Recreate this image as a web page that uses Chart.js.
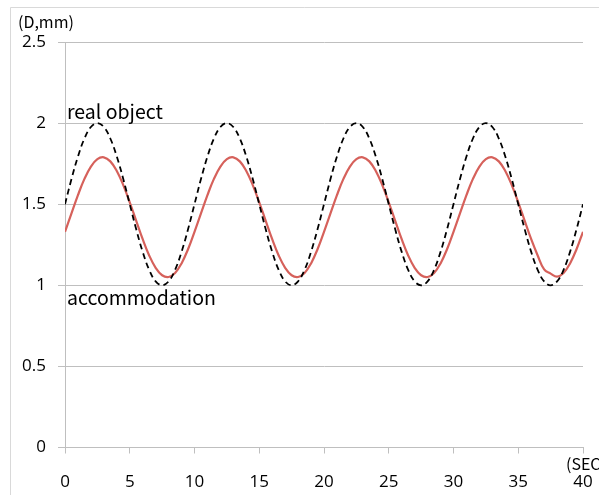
<!DOCTYPE html>
<html>
<head>
<meta charset="utf-8">
<script src="https://cdn.jsdelivr.net/npm/chart.js@4/dist/chart.umd.min.js"></script>
<style>
  html, body { margin: 0; padding: 0; background: #ffffff; }
  #wrap { position: relative; width: 599px; height: 495px; }
</style>
</head>
<body>
<div id="wrap"><canvas id="c" width="599" height="495"></canvas></div>
<script>
// time (sec), step 0.5
const times = [
  0,0.5,1,1.5,2,2.5,3,3.5,4,4.5,5,5.5,6,6.5,7,7.5,8,8.5,9,9.5,
  10,10.5,11,11.5,12,12.5,13,13.5,14,14.5,15,15.5,16,16.5,17,17.5,18,18.5,19,19.5,
  20,20.5,21,21.5,22,22.5,23,23.5,24,24.5,25,25.5,26,26.5,27,27.5,28,28.5,29,29.5,
  30,30.5,31,31.5,32,32.5,33,33.5,34,34.5,35,35.5,36,36.5,37,37.5,38,38.5,39,39.5,
  40
];
// real object (D) — dashed black
const realObject = [
  1.50,1.655,1.794,1.905,1.976,2.00,1.976,1.905,1.794,1.655,1.50,1.345,1.206,1.095,1.024,1.00,1.024,1.095,1.206,1.345,
  1.50,1.655,1.794,1.905,1.976,2.00,1.976,1.905,1.794,1.655,1.50,1.345,1.206,1.095,1.024,1.00,1.024,1.095,1.206,1.345,
  1.50,1.655,1.794,1.905,1.976,2.00,1.976,1.905,1.794,1.655,1.50,1.345,1.206,1.095,1.024,1.00,1.024,1.095,1.206,1.345,
  1.50,1.655,1.794,1.905,1.976,2.00,1.976,1.905,1.794,1.655,1.50,1.345,1.206,1.095,1.024,1.00,1.024,1.095,1.206,1.345,
  1.50
];
// accommodation (D) — red
const accommodation = [
  1.33,1.443,1.556,1.656,1.732,1.778,1.789,1.764,1.705,1.618,1.512,1.397,1.284,1.184,1.108,1.062,1.051,1.076,1.135,1.222,
  1.33,1.443,1.556,1.656,1.732,1.778,1.789,1.764,1.705,1.618,1.512,1.397,1.284,1.184,1.108,1.062,1.051,1.076,1.135,1.222,
  1.33,1.443,1.556,1.656,1.732,1.778,1.789,1.764,1.705,1.618,1.512,1.397,1.284,1.184,1.108,1.062,1.051,1.076,1.135,1.222,
  1.33,1.443,1.556,1.656,1.732,1.778,1.789,1.764,1.705,1.618,1.512,1.397,1.284,1.184,1.098,1.072,1.054,1.076,1.135,1.222,
  1.33
];
const yTicks = [0, 0.5, 1, 1.5, 2, 2.5];
const xTicks = [0, 5, 10, 15, 20, 25, 30, 35, 40];
const labels = { realObject: 'real object', accommodation: 'accommodation', yUnit: '(D,mm)', xUnit: '(SEC)' };

const GRID = '#bfbfbf';
const TICKFONT = { family: "'Open Sans', 'Noto Sans', sans-serif", size: 17 };

const decor = {
  id: 'decor',
  beforeDraw(chart) {
    const ctx = chart.ctx;
    ctx.save();
    ctx.fillStyle = '#fff';
    ctx.fillRect(0, 0, chart.width, chart.height);
    ctx.strokeStyle = '#d9d9d9';
    ctx.lineWidth = 1;
    ctx.beginPath();
    ctx.moveTo(10.5, chart.height);
    ctx.lineTo(10.5, 7.5);
    ctx.lineTo(chart.width, 7.5);
    ctx.stroke();
    ctx.restore();
  },
  afterDraw(chart) {
    const ctx = chart.ctx;
    ctx.save();
    ctx.fillStyle = '#000';
    ctx.textBaseline = 'alphabetic';
    ctx.textAlign = 'left';
    ctx.font = "19.5px 'Noto Sans CJK JP', 'Noto Sans', sans-serif";
    ctx.fillText(labels.realObject, 67, 119);
    ctx.fillText(labels.accommodation, 67, 305);
    ctx.font = "16px 'Noto Sans CJK JP', 'Noto Sans', sans-serif";
    ctx.fillText(labels.yUnit, 18, 28);
    ctx.fillText(labels.xUnit, 566, 470);
    ctx.restore();
  }
};

new Chart(document.getElementById('c'), {
  type: 'line',
  data: {
    datasets: [
      {
        label: labels.realObject,
        data: times.map((t, i) => ({ x: t, y: realObject[i] })),
        borderColor: '#000000',
        borderWidth: 1.8,
        borderDash: [6, 4],
        pointRadius: 0,
        tension: 0.4,
        fill: false
      },
      {
        label: labels.accommodation,
        data: times.map((t, i) => ({ x: t, y: accommodation[i] })),
        borderColor: '#d6615b',
        borderWidth: 2.2,
        pointRadius: 0,
        tension: 0.4,
        fill: false
      }
    ]
  },
  options: {
    responsive: false,
    animation: false,
    events: [],
    layout: { padding: { left: 0, right: 16, top: 42, bottom: 0 } },
    plugins: { legend: { display: false }, tooltip: { enabled: false }, title: { display: false } },
    scales: {
      x: {
        type: 'linear',
        min: 0, max: 40,
        afterBuildTicks(axis) { axis.ticks = xTicks.map(v => ({ value: v })); },
        afterFit(axis) { axis.height = 47.5; axis.paddingRight = 0; axis.paddingLeft = 0; },
        grid: { display: true, drawOnChartArea: false, drawTicks: true, tickLength: 6, color: GRID },
        border: { display: true, color: GRID, width: 1 },
        ticks: { color: '#000', font: TICKFONT, padding: 18, maxRotation: 0, autoSkip: false }
      },
      y: {
        type: 'linear',
        min: 0, max: 2.5,
        afterBuildTicks(axis) { axis.ticks = yTicks.map(v => ({ value: v })); },
        afterFit(axis) { axis.width = 65; axis.paddingTop = 0; axis.paddingBottom = 0; },
        grid: { display: true, drawOnChartArea: true, drawTicks: true, tickLength: 7, color: GRID },
        border: { display: true, color: GRID, width: 1 },
        ticks: { color: '#000', font: TICKFONT, padding: 12, autoSkip: false,
                 callback: v => String(v) }
      }
    }
  },
  plugins: [decor]
});
</script>
</body>
</html>
